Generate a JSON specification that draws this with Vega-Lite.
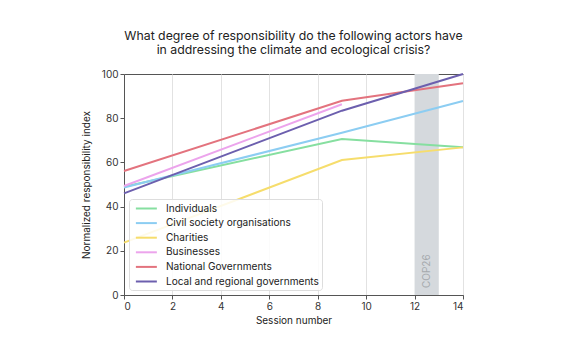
{
  "$schema": "https://vega.github.io/schema/vega-lite/v6.json",
  "width": 339,
  "height": 221,
  "autosize": {"type": "none"},
  "padding": {"left": 124, "top": 74, "right": 111, "bottom": 61},
  "background": "white",
  "config": {
    "font": "Inter",
    "view": {"stroke": "#555", "strokeWidth": 1},
    "axis": {"labelFont": "Inter", "titleFont": "Inter", "labelFontSize": 10, "titleFontSize": 10, "titleFontWeight": "normal", "labelColor": "#333", "titleColor": "#222", "domainColor": "#555", "tickColor": "#555", "gridColor": "#e2e2e2"}
  },
  "title": {
    "text": ["What degree of responsibility do the following actors have", "in addressing the climate and ecological crisis?"],
    "fontSize": 12.3,
    "fontWeight": "normal",
    "color": "#222",
    "anchor": "middle",
    "offset": 13,
    "lineHeight": 14
  },
  "datasets": {
    "series": [
      {"actor": "Individuals", "session": 0, "index": 49},
      {"actor": "Individuals", "session": 9, "index": 70.6},
      {"actor": "Individuals", "session": 14, "index": 66.8},
      {"actor": "Civil society organisations", "session": 0, "index": 48.6},
      {"actor": "Civil society organisations", "session": 9, "index": 73.4},
      {"actor": "Civil society organisations", "session": 14, "index": 87.8},
      {"actor": "Charities", "session": 0, "index": 23.7},
      {"actor": "Charities", "session": 9, "index": 61.1},
      {"actor": "Charities", "session": 14, "index": 66.8},
      {"actor": "Businesses", "session": 0, "index": 49.3},
      {"actor": "Businesses", "session": 9, "index": 86.3},
      {"actor": "National Governments", "session": 0, "index": 56.1},
      {"actor": "National Governments", "session": 9, "index": 87.9},
      {"actor": "National Governments", "session": 14, "index": 95.8},
      {"actor": "Local and regional governments", "session": 0, "index": 46},
      {"actor": "Local and regional governments", "session": 9, "index": 83.4},
      {"actor": "Local and regional governments", "session": 14, "index": 100}
    ],
    "band": [{"start": 12, "end": 13, "label": "COP26"}]
  },
  "layer": [
    {
      "data": {"name": "band"},
      "mark": {"type": "rect", "color": "#d5d9dd", "opacity": 1},
      "encoding": {
        "x": {"field": "start", "type": "quantitative", "scale": {"domain": [0, 14], "nice": false}, "axis": {"values": [0, 2, 4, 6, 8, 10, 12, 14], "title": "Session number", "tickSize": 4, "titlePadding": 4}},
        "x2": {"field": "end"},
        "y": {"datum": 0, "type": "quantitative", "scale": {"domain": [0, 100], "nice": false}, "axis": {"values": [0, 10, 20, 30, 40, 50, 60, 70, 80, 90, 100], "labelExpr": "datum.value % 20 == 0 ? datum.label : ''", "title": "Normalized responsibility index", "tickSize": 4, "titlePadding": 10}},
        "y2": {"datum": 100}
      }
    },
    {
      "data": {"name": "band"},
      "mark": {"type": "text", "angle": -90, "align": "left", "baseline": "middle", "dx": 7, "fontSize": 10, "color": "#a5a9ad", "font": "Inter"},
      "encoding": {
        "x": {"datum": 12.5, "type": "quantitative"},
        "y": {"datum": 0, "type": "quantitative"},
        "text": {"field": "label"}
      }
    },
    {
      "data": {"name": "series"},
      "mark": {"type": "line", "strokeWidth": 2},
      "encoding": {
        "x": {"field": "session", "type": "quantitative"},
        "y": {"field": "index", "type": "quantitative"},
        "color": {
          "field": "actor",
          "type": "nominal",
          "scale": {
            "domain": ["Individuals", "Civil society organisations", "Charities", "Businesses", "National Governments", "Local and regional governments"],
            "range": ["#86dfa0", "#8ccdf2", "#f6dd6c", "#eca4ec", "#e3737e", "#6c5fae"]
          },
          "legend": {
            "title": null,
            "orient": "none",
            "legendX": 5,
            "legendY": 125,
            "symbolType": "M-0.5,0L3.5,0",
            "symbolSize": 110,
            "symbolStrokeWidth": 2,
            "labelFontSize": 10.1,
            "labelColor": "#222",
            "labelFont": "Inter",
            "rowPadding": 2.6,
            "labelOffset": 21,
            "padding": 3,
            "fillColor": "rgba(255,255,255,0.85)",
            "strokeColor": "#dddddd",
            "cornerRadius": 3
          }
        }
      }
    }
  ]
}
